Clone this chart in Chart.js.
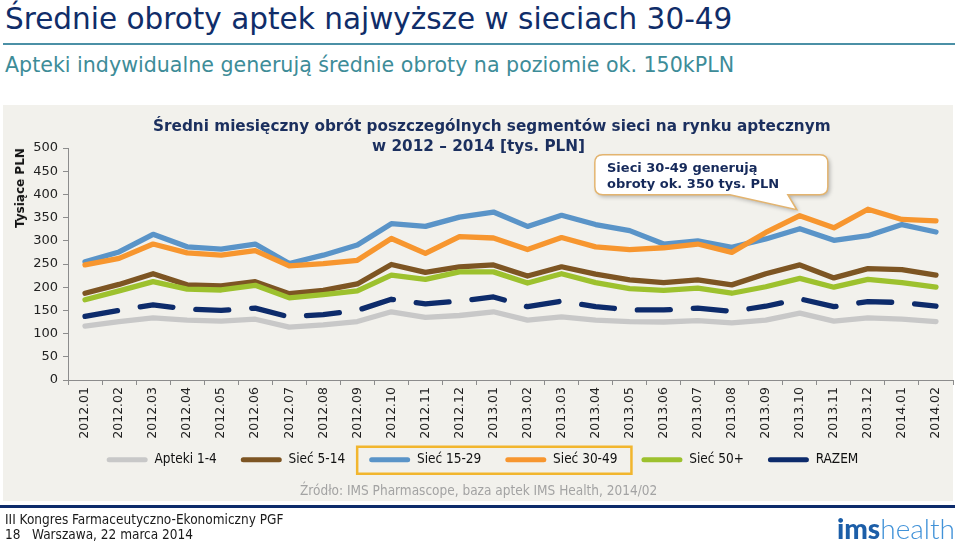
<!DOCTYPE html>
<html lang="pl">
<head>
<meta charset="utf-8">
<script src="https://cdn.jsdelivr.net/npm/chart.js@4.4.1/dist/chart.umd.min.js"></script>
<style>
  html,body{margin:0;padding:0;background:#ffffff;}
  body{width:960px;height:545px;overflow:hidden;position:relative;font-family:'DejaVu Sans',Verdana,sans-serif;}
  .abs{position:absolute;white-space:nowrap;}
  #title{left:5px;top:1px;font-size:29.5px;line-height:36px;color:#102d69;}
  #rule{left:3px;top:43px;width:952px;height:2px;background:#4b90a6;}
  #subtitle{left:5px;top:52px;font-size:20.6px;line-height:26px;color:#3d8c98;}
  #panel{left:3px;top:105px;width:950px;height:396px;background:#f2f1ec;}
  #chartTitle1{left:153px;top:116px;font-size:15.27px;font-weight:bold;line-height:20px;color:#1b2f5e;}
  #chartTitle2{left:372px;top:136px;font-size:15.27px;font-weight:bold;line-height:20px;color:#1b2f5e;}
  #ytitle{left:20px;top:188px;font-size:12px;font-weight:bold;color:#111;transform:translate(-50%,-50%) rotate(-90deg);}
  #callout{left:607px;top:160px;font-size:13px;font-weight:bold;line-height:16px;color:#15295a;}
  #source{left:300px;top:482px;font-family:'DejaVu Sans Condensed','DejaVu Sans',sans-serif;font-size:13.5px;line-height:16px;color:#a3a3a3;}
  #footline{left:0px;top:505px;width:955px;height:3px;background:#0d2b6b;}
  #foot1{left:5px;top:511px;font-family:'DejaVu Sans Condensed','DejaVu Sans',sans-serif;font-size:13.5px;line-height:16px;color:#1a1a1a;}
  #foot2{left:5px;top:526px;font-family:'DejaVu Sans Condensed','DejaVu Sans',sans-serif;font-size:13.5px;line-height:16px;color:#1a1a1a;}
  #logo{right:5px;top:512px;font-family:Lato,'Open Sans',sans-serif;font-size:28px;line-height:32px;}
  #logo .b{font-weight:900;color:#1c5ea8;}
  #logo .l{font-weight:300;color:#4192d8;}
  canvas{position:absolute;left:0;top:0;}
</style>
</head>
<body>
<div id="title" class="abs">Średnie obroty aptek najwyższe w sieciach 30-49</div>
<div id="rule" class="abs"></div>
<div id="subtitle" class="abs">Apteki indywidualne generują średnie obroty na poziomie ok. 150kPLN</div>
<div id="panel" class="abs"></div>
<canvas id="c" width="960" height="545"></canvas>
<div id="chartTitle1" class="abs">Średni miesięczny obrót poszczególnych segmentów sieci na rynku aptecznym</div>
<div id="chartTitle2" class="abs">w 2012 – 2014 [tys. PLN]</div>
<div id="ytitle" class="abs">Tysiące PLN</div>
<div id="callout" class="abs">Sieci 30-49 generują<br>obroty ok. 350 tys. PLN</div>
<div id="source" class="abs">Źródło: IMS Pharmascope, baza aptek IMS Health, 2014/02</div>
<div id="footline" class="abs"></div>
<div id="foot1" class="abs">III Kongres Farmaceutyczno-Ekonomiczny PGF</div>
<div id="foot2" class="abs">18&nbsp;&nbsp;&nbsp;Warszawa, 22 marca 2014</div>
<div id="logo" class="abs"><span class="b">ims</span><span class="l">health</span></div>

<script>
const months = ['2012.01','2012.02','2012.03','2012.04','2012.05','2012.06','2012.07','2012.08','2012.09','2012.10','2012.11','2012.12',
                '2013.01','2013.02','2013.03','2013.04','2013.05','2013.06','2013.07','2013.08','2013.09','2013.10','2013.11','2013.12',
                '2014.01','2014.02'];
const seriesNames = ['Apteki 1-4','Sieć 5-14','Sieć 15-29','Sieć 30-49','Sieć 50+','RAZEM'];
const apteki1_4 = [116,126,134,129,127,131,114,119,126,147,135,139,147,129,136,129,126,125,128,123,129,144,127,134,131,126];
const siec5_14  = [187,206,229,205,203,212,186,193,207,249,232,244,248,224,244,228,216,210,216,205,229,248,220,240,238,226];
const siec15_29 = [255,276,314,287,282,293,251,269,291,337,331,351,362,331,355,335,322,293,300,286,304,326,301,311,335,319];
const siec30_49 = [248,262,293,274,269,279,246,251,258,305,273,309,306,281,307,287,281,285,293,275,318,354,328,368,346,343];
const siec50    = [173,192,212,196,194,204,177,184,192,226,217,233,233,209,229,210,197,193,198,187,201,219,200,217,210,200];
const razem     = [137,150,162,153,150,155,136,141,150,174,164,170,179,158,170,158,151,151,155,148,159,175,158,169,167,159];
const yTicks = {min:0, max:500, step:50};
const calloutIndex = 21; // 2013.10
const calloutSeries = 3; // Sieć 30-49

const colors = ['#c8c8c8','#7d5523','#5a94c8','#f7962f','#9dc12e','#0d2b6b'];
const allData = [apteki1_4, siec5_14, siec15_29, siec30_49, siec50, razem];

const datasets = allData.map((d,i)=>({
  label: seriesNames[i],
  data: d,
  borderColor: colors[i],
  backgroundColor: colors[i],
  borderWidth: 5.3,
  pointRadius: 0,
  pointHoverRadius: 0,
  tension: 0,
  fill: false,
  borderJoinStyle: 'round',
  borderCapStyle: 'round',
  borderDash: i === 5 ? [33, 23] : [],
  order: 5 - i
}));

const axisColor = '#8c8c8c';
const legendShiftY = 11;
const legendShiftX = 8;

const calloutPlugin = {
  id: 'callout',
  afterDatasetsDraw(chart){
    const pt = chart.getDatasetMeta(calloutSeries).data[calloutIndex];
    if(!pt) return;
    const ctx = chart.ctx;
    const L = pt.x - 205, R = pt.x + 28, T = pt.y - 61, B = pt.y - 21, r = 8;
    const tipX = pt.x - 3, tipY = pt.y - 6;
    const b1 = pt.x - 70, b2 = pt.x - 12;
    ctx.save();
    ctx.beginPath();
    ctx.moveTo(L + r, T);
    ctx.lineTo(R - r, T);
    ctx.quadraticCurveTo(R, T, R, T + r);
    ctx.lineTo(R, B - r);
    ctx.quadraticCurveTo(R, B, R - r, B);
    ctx.lineTo(b2, B);
    ctx.lineTo(tipX, tipY);
    ctx.lineTo(b1, B);
    ctx.lineTo(L + r, B);
    ctx.quadraticCurveTo(L, B, L, B - r);
    ctx.lineTo(L, T + r);
    ctx.quadraticCurveTo(L, T, L + r, T);
    ctx.closePath();
    ctx.shadowColor = 'rgba(0,0,0,0.28)';
    ctx.shadowBlur = 4;
    ctx.shadowOffsetX = 2;
    ctx.shadowOffsetY = 2;
    ctx.fillStyle = '#ffffff';
    ctx.fill();
    ctx.shadowColor = 'transparent';
    ctx.lineWidth = 1.5;
    ctx.strokeStyle = '#e3b46f';
    ctx.stroke();
    ctx.restore();
  }
};

const legendShiftPlugin = {
  id: 'legendShift',
  afterLayout(chart){
    const lg = chart.legend;
    if(!lg) return;
    lg.top -= legendShiftY;
    lg.bottom -= legendShiftY;
    lg.left -= legendShiftX;
    lg.right -= legendShiftX;
  }
};

const legendBoxPlugin = {
  id: 'legendBox',
  afterDraw(chart){
    const lg = chart.legend;
    if(!lg || !lg.legendHitBoxes || lg.legendHitBoxes.length < 4) return;
    const h2 = lg.legendHitBoxes[2], h3 = lg.legendHitBoxes[3];
    const cy = h2.top + h2.height/2;
    const ctx = chart.ctx;
    ctx.save();
    ctx.strokeStyle = '#f2b62e';
    ctx.lineWidth = 2.5;
    ctx.strokeRect(h2.left - 12, cy - 13, (h3.left + h3.width + 14) - (h2.left - 12), 27);
    ctx.restore();
  }
};

new Chart(document.getElementById('c'), {
  type: 'line',
  data: { labels: months, datasets },
  plugins: [legendShiftPlugin, calloutPlugin, legendBoxPlugin],
  options: {
    responsive: false,
    animation: false,
    events: [],
    layout: { padding: { left: 28, top: 148, right: 7, bottom: 57.5 } },
    plugins: {
      tooltip: { enabled: false },
      title: { display: false },
      legend: {
        display: true,
        position: 'bottom',
        labels: {
          boxWidth: 41,
          boxHeight: 5,
          padding: 24,
          color: '#111',
          font: { family: "'DejaVu Sans Condensed','DejaVu Sans',sans-serif", size: 13.5 },
          sort: (a, b) => a.datasetIndex - b.datasetIndex,
          generateLabels(chart){
            return chart.data.datasets.map((ds, i) => ({
              text: ds.label,
              fillStyle: ds.borderColor,
              strokeStyle: ds.borderColor,
              lineWidth: 0,
              lineDash: [],
              borderRadius: 2.5,
              fontColor: '#111',
              hidden: false,
              datasetIndex: i
            }));
          }
        }
      }
    },
    scales: {
      x: {
        offset: true,
        grid: { display: true, drawOnChartArea: false, drawTicks: true, tickLength: 5, color: axisColor, offset: true },
        border: { display: true, color: axisColor, width: 1 },
        ticks: {
          autoSkip: false, minRotation: 90, maxRotation: 90, padding: 2,
          color: '#222',
          font: { family: "'DejaVu Sans',sans-serif", size: 12.5 }
        },
        afterFit(s){ s.height = 60; }
      },
      y: {
        min: yTicks.min, max: yTicks.max,
        grid: { display: true, drawOnChartArea: false, drawTicks: true, tickLength: 5, color: axisColor },
        border: { display: true, color: axisColor, width: 1 },
        ticks: {
          stepSize: yTicks.step, padding: 5, color: '#222',
          font: { family: "'DejaVu Sans',sans-serif", size: 13 }
        },
        afterFit(s){ s.width = 40; }
      }
    }
  }
});
</script>
</body>
</html>
